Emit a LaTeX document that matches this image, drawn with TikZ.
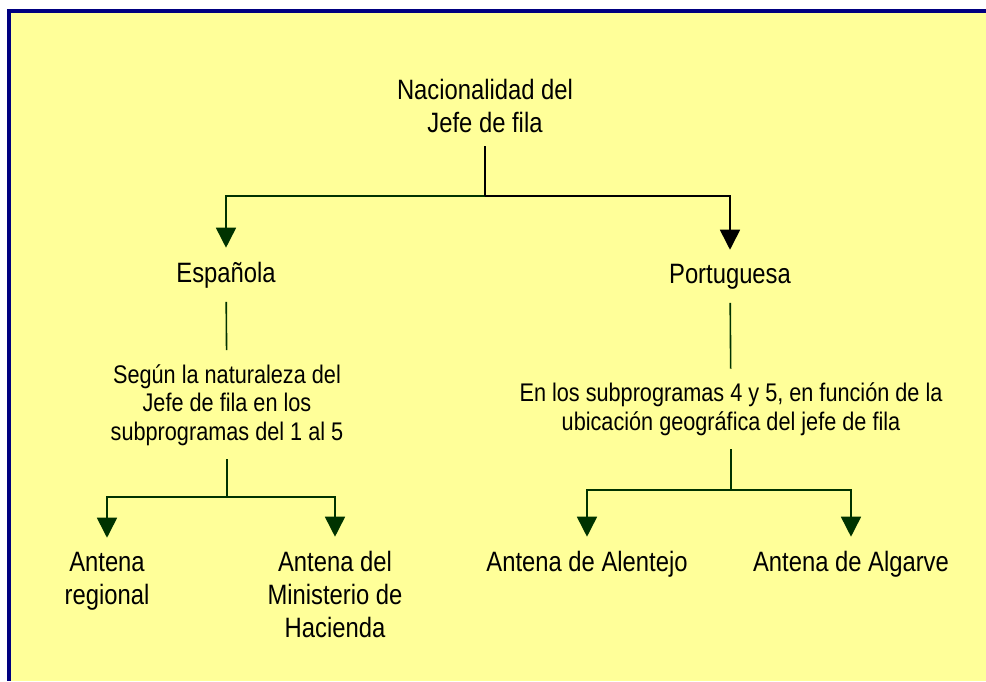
\documentclass[tikz,border=0pt]{standalone}
\usepackage{fontspec}
\setmainfont{Liberation Sans}[FakeStretch=0.85]
\usetikzlibrary{arrows.meta}
\definecolor{framecol}{RGB}{0,0,128}
\definecolor{paper}{RGB}{255,255,153}
\definecolor{treegreen}{RGB}{0,51,0}

\begin{document}
\begin{tikzpicture}[x=1pt, y=-1pt,
        txt/.style = {font=\fontsize{28}{33}\selectfont, align=center, inner sep=0pt, outer ysep=14pt},
        note/.style = {font=\fontsize{25.5}{28.5}\selectfont, align=center, inner sep=0pt, outer ysep=14pt},
        link/.style = {draw=treegreen, line width=1.6pt},
        tip/.style = {-{Triangle[width=20pt,length=20pt]}}]
                \useasboundingbox (0,0) rectangle (986,681);
                \fill[paper] (9,11) rectangle (986,681);
                \draw[framecol, line width=4pt] (986,11) -- (9,11) -- (9,681);

                % last line of each label sits on the given baseline
                \node[txt, anchor=base] at (485, 132) (nac) {Nacionalidad del\\Jefe de fila};
                \node[txt, anchor=base] at (226, 282) (esp) {Española};
                \node[txt, anchor=base] at (730, 283) (por) {Portuguesa};
                \node[note, anchor=base] at (227, 440) (seg) {Según la naturaleza del\\Jefe de fila en los\\subprogramas del 1 al 5};
                \node[note, anchor=base] at (731, 430) (enl) {En los subprogramas 4 y 5, en función de la\\ubicación geográfica del jefe de fila};
                \node[txt, anchor=base] at (107, 604) (reg) {Antena\\regional};
                \node[txt, anchor=base] at (335, 637) (min) {Antena del\\Ministerio de\\Hacienda};
                \node[txt, anchor=base] at (587, 571) (ale) {Antena de Alentejo};
                \node[txt, anchor=base] at (851, 571) (alg) {Antena de Algarve};

                \coordinate (j0) at (485, 196);
                \coordinate (j1) at (227, 497);
                \coordinate (j2) at (731, 490);

                \draw[link, tip] (j0) -| (esp);
                \draw[line width=1.6pt, tip] (j0) -| (por);
                \draw[line width=1.6pt] (nac) -- (j0);

                \draw[link] (esp) -- (seg);
                \draw[link] (seg) -- (j1);
                \draw[link, tip] (j1) -| (reg);
                \draw[link, tip] (j1) -| (min);

                \draw[link] (por) -- (enl);
                \draw[link] (enl) -- (j2);
                \draw[link, tip] (j2) -| (ale);
                \draw[link, tip] (j2) -| (alg);
            \end{tikzpicture}
\end{document}
